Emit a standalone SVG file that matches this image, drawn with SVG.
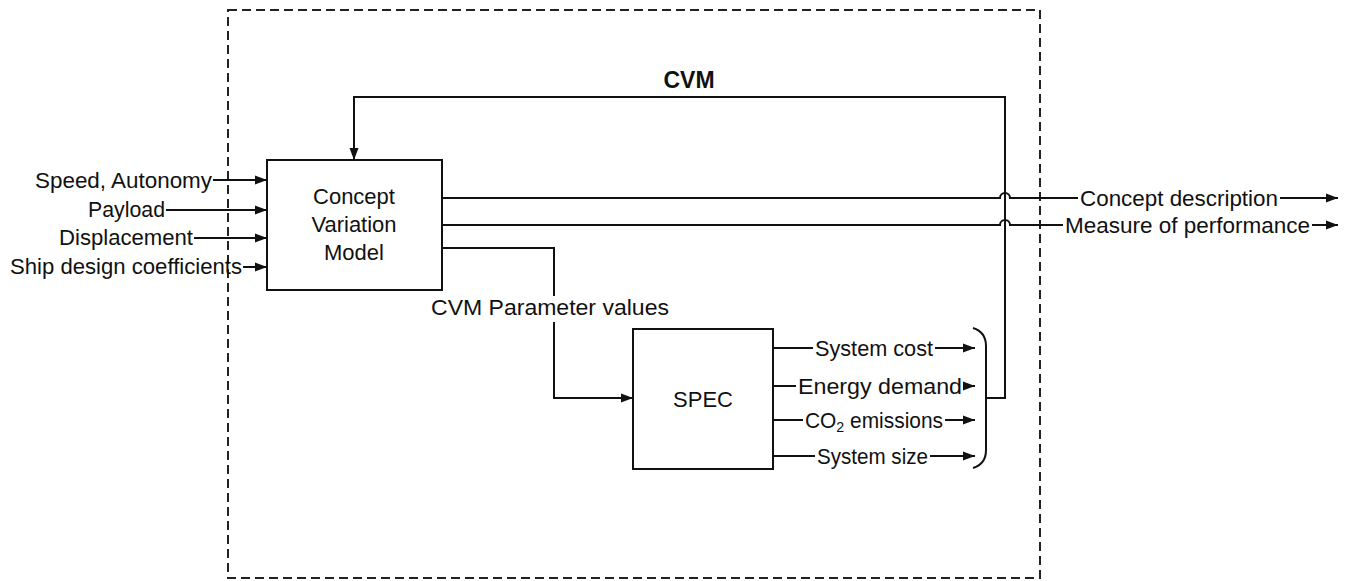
<svg xmlns="http://www.w3.org/2000/svg" width="1354" height="581" viewBox="0 0 1354 581">
  <defs>
    <marker id="arrow" viewBox="0 0 12 10" refX="12" refY="5" markerWidth="12" markerHeight="10" markerUnits="userSpaceOnUse" orient="auto">
      <path d="M0,0.5 L12,5 L0,9.5 Z" fill="#111"/>
    </marker>
    <style>
      .lbl { font-family: "Liberation Sans", Arial, sans-serif; font-size: 22px; fill: #111; }
      .mid { text-anchor: middle; }
      .title { font-family: "Liberation Sans", Arial, sans-serif; font-size: 23px; font-weight: bold; fill: #111; text-anchor: middle; }
      .box { fill: #fff; stroke: #111; stroke-width: 2; }
      .wire { fill: none; stroke: #111; stroke-width: 2; }
      .arr { marker-end: url(#arrow); }
      .frame { fill: none; stroke: #222; stroke-width: 2; stroke-dasharray: 9 5; }
    </style>
  </defs>

  <!-- system boundary -->
  <g id="boundary">
    <rect class="frame" x="228" y="10" width="812" height="568"/>
    <text class="title" x="689" y="88">CVM</text>
  </g>

  <!-- blocks -->
  <g id="cvm-model">
    <rect class="box" x="267" y="160" width="175" height="130"/>
    <text class="lbl mid" x="354" y="204">Concept</text>
    <text class="lbl mid" x="354" y="232">Variation</text>
    <text class="lbl mid" x="354" y="260">Model</text>
  </g>

  <g id="spec">
    <rect class="box" x="633" y="329" width="140" height="140"/>
    <text class="lbl mid" x="703" y="407">SPEC</text>
  </g>

  <!-- input labels -->
  <g id="inputs">
    <text class="lbl" x="35" y="188" textLength="177" lengthAdjust="spacingAndGlyphs">Speed, Autonomy</text>
    <text class="lbl" x="88" y="217" textLength="77" lengthAdjust="spacingAndGlyphs">Payload</text>
    <text class="lbl" x="59" y="245" textLength="134" lengthAdjust="spacingAndGlyphs">Displacement</text>
    <text class="lbl" x="10" y="274" textLength="232" lengthAdjust="spacingAndGlyphs">Ship design coefficients</text>
  </g>

  <!-- output labels -->
  <g id="outputs">
    <text class="lbl" x="1080" y="206" textLength="198" lengthAdjust="spacingAndGlyphs">Concept description</text>
    <text class="lbl" x="1065" y="233" textLength="245" lengthAdjust="spacingAndGlyphs">Measure of performance</text>
    <text class="lbl" x="431" y="315" textLength="238" lengthAdjust="spacingAndGlyphs">CVM Parameter values</text>
  </g>

  <g id="spec-outputs">
    <text class="lbl" x="815" y="356" textLength="118" lengthAdjust="spacingAndGlyphs">System cost</text>
    <text class="lbl" x="798" y="394" textLength="164" lengthAdjust="spacingAndGlyphs">Energy demand</text>
    <text class="lbl" x="805" y="428" textLength="138" lengthAdjust="spacingAndGlyphs">CO<tspan font-size="15" dy="4">2</tspan><tspan dy="-4"> emissions</tspan></text>
    <text class="lbl" x="817" y="464" textLength="111" lengthAdjust="spacingAndGlyphs">System size</text>
  </g>

  <!-- connectors -->
  <g id="connectors">
    <!-- inputs into the concept variation model -->
    <path class="wire arr" d="M213,180 H267"/>
    <path class="wire arr" d="M166,210 H267"/>
    <path class="wire arr" d="M194,238 H267"/>
    <path class="wire arr" d="M243,267 H267"/>

    <!-- model outputs, hopping over the feedback line -->
    <path class="wire" d="M442,198 H1000 A5,5 0 0 1 1010,198 H1078"/>
    <path class="wire arr" d="M1280,198 H1338"/>
    <path class="wire" d="M442,225 H1000 A5,5 0 0 1 1010,225 H1063"/>
    <path class="wire arr" d="M1312,225 H1338"/>

    <!-- parameter values into SPEC -->
    <path class="wire" d="M442,248 H554 V296"/>
    <path class="wire arr" d="M554,322 V398 H633"/>

    <!-- SPEC outputs -->
    <path class="wire" d="M773,348 H813"/>
    <path class="wire arr" d="M935,348 H975"/>
    <path class="wire" d="M773,386 H796"/>
    <path class="wire arr" d="M964,386 H975"/>
    <path class="wire" d="M773,420 H803"/>
    <path class="wire arr" d="M945,420 H975"/>
    <path class="wire" d="M773,456 H815"/>
    <path class="wire arr" d="M930,456 H975"/>

    <!-- grouping bracket and feedback loop -->
    <path class="wire" d="M973,328 Q986,332 986,346 V450 Q986,464 973,468"/>
    <path class="wire arr" d="M986,398 H1005 V97 H354 V160"/>
  </g>
</svg>
